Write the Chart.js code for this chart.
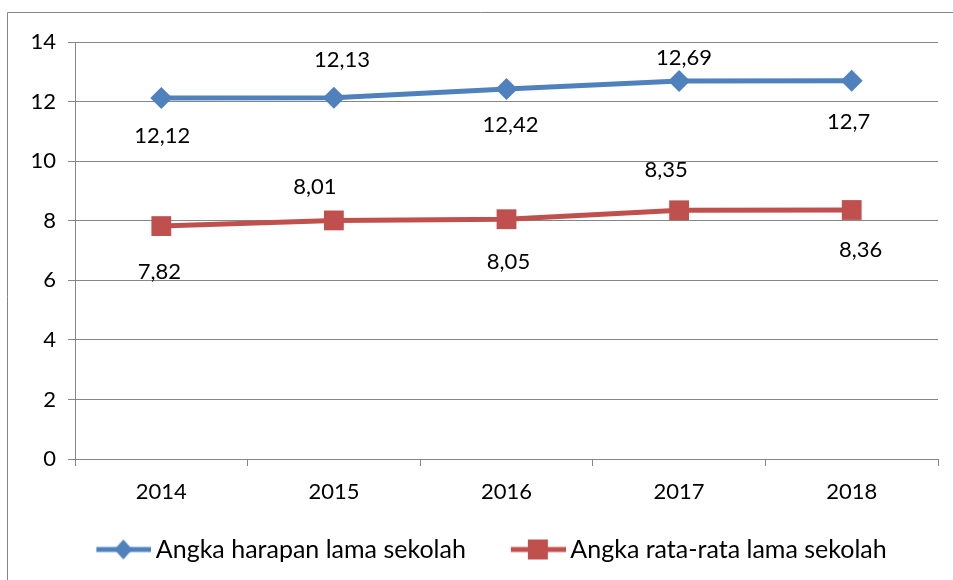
<!DOCTYPE html>
<html>
<head>
<meta charset="utf-8">
<script src="https://cdn.jsdelivr.net/npm/chart.js@4"></script>
<style>
  html, body { margin: 0; padding: 0; background: #fff; }
  #wrap { width: 953px; height: 580px; }
</style>
</head>
<body>
<div id="wrap"><canvas id="chart" width="953" height="580"></canvas></div>
<script>
// --- data ---
const years = ["2014", "2015", "2016", "2017", "2018"];
const harapanLama = [12.12, 12.13, 12.42, 12.69, 12.7];
const rataRataLama = [7.82, 8.01, 8.05, 8.35, 8.36];
const yTicks = [0, 2, 4, 6, 8, 10, 12, 14];

const colors = {
  blue: "#4f81bd",
  red: "#c0504d",
  grid: "#868686",
  text: "#000000",
};
const font = "Lato, 'Open Sans', sans-serif";

// label placement (px offsets from the point), as in the original sheet
const labelShift = {
  0: [[1, 38], [8, -38], [4, 36], [5, -23], [-3, 41]],
  1: [[-2, 46], [-19, -34], [2, 43], [-13, -40], [9, 40]],
};

function fmt(v) {
  return String(v).replace(".", ",");
}

// legend swatch: line with the marker in the middle.
// image is wider than the legend box so the line sits right next to the text
function swatch(color, shape) {
  const c = document.createElement("canvas");
  c.width = 98;
  c.height = 24;
  const g = c.getContext("2d");
  const x0 = 43, x1 = 98, mid = 70;
  g.strokeStyle = color;
  g.lineWidth = 5;
  g.beginPath();
  g.moveTo(x0, 12);
  g.lineTo(x1, 12);
  g.stroke();
  g.fillStyle = color;
  g.beginPath();
  if (shape === "diamond") {
    g.moveTo(mid, 2);
    g.lineTo(mid + 9, 12);
    g.lineTo(mid, 22);
    g.lineTo(mid - 9, 12);
  } else {
    g.rect(mid - 10, 2, 20, 20);
  }
  g.closePath();
  g.fill();
  return c;
}

const frame = {
  id: "frame",
  beforeDraw(chart) {
    const ctx = chart.ctx;
    ctx.save();
    ctx.fillStyle = "#fff";
    ctx.fillRect(0, 0, chart.width, chart.height);
    ctx.strokeStyle = colors.grid;
    ctx.lineWidth = 1;
    ctx.beginPath();
    ctx.moveTo(7.5, chart.height);
    ctx.lineTo(7.5, 12.5);
    ctx.lineTo(chart.width, 12.5);
    ctx.stroke();
    ctx.restore();
  },
};

// nudge the legend a little left, like the original
const legendShift = {
  id: "legendShift",
  afterLayout(chart) {
    chart.legend.left -= 10;
    chart.legend.right -= 10;
  },
};

const valueLabels = {
  id: "valueLabels",
  afterDatasetsDraw(chart) {
    const ctx = chart.ctx;
    ctx.save();
    ctx.font = "22px " + font;
    ctx.fillStyle = colors.text;
    ctx.textAlign = "center";
    ctx.textBaseline = "middle";
    chart.data.datasets.forEach((ds, i) => {
      chart.getDatasetMeta(i).data.forEach((pt, j) => {
        const [dx, dy] = labelShift[i][j];
        ctx.fillText(fmt(ds.data[j]), pt.x + dx, pt.y + dy);
      });
    });
    ctx.restore();
  },
};

new Chart(document.getElementById("chart"), {
  type: "line",
  data: {
    labels: years,
    datasets: [
      {
        label: "Angka harapan lama sekolah",
        data: harapanLama,
        borderColor: colors.blue,
        backgroundColor: colors.blue,
        borderWidth: 5,
        pointStyle: "rectRot",
        pointRadius: 11,
        pointHoverRadius: 11,
        pointBorderWidth: 0,
        tension: 0,
      },
      {
        label: "Angka rata-rata lama sekolah",
        data: rataRataLama,
        borderColor: colors.red,
        backgroundColor: colors.red,
        borderWidth: 5,
        pointStyle: "rect",
        pointRadius: 14,
        pointHoverRadius: 14,
        pointBorderWidth: 0,
        tension: 0,
      },
    ],
  },
  options: {
    responsive: false,
    animation: false,
    layout: { padding: { left: 30, right: 15, top: 42, bottom: 8 } },
    plugins: {
      tooltip: { enabled: false },
      legend: {
        position: "bottom",
        labels: {
          font: { family: font, size: 25 },
          color: colors.text,
          usePointStyle: true,
          pointStyleWidth: 82,
          padding: 10,
          generateLabels(chart) {
            return chart.data.datasets.map((ds, i) => ({
              text: ds.label,
              pointStyle: swatch(ds.borderColor, i === 0 ? "diamond" : "square"),
              fillStyle: ds.borderColor,
              strokeStyle: ds.borderColor,
              lineWidth: 0,
              fontColor: colors.text,
              datasetIndex: i,
            }));
          },
        },
      },
    },
    scales: {
      x: {
        offset: true,
        afterFit(axis) {
          axis.height = 68;
        },
        grid: {
          offset: true,
          drawOnChartArea: false,
          drawTicks: true,
          tickLength: 7,
          color: colors.grid,
        },
        border: { color: colors.grid },
        ticks: {
          font: { family: font, size: 22 },
          color: colors.text,
          padding: 13,
        },
      },
      y: {
        min: 0,
        max: 14,
        afterBuildTicks(axis) {
          axis.ticks = yTicks.map((v) => ({ value: v }));
        },
        afterFit(axis) {
          axis.width = 45;
        },
        grid: {
          color: colors.grid,
          tickLength: 7,
        },
        border: { color: colors.grid },
        ticks: {
          font: { family: font, size: 22 },
          color: colors.text,
          padding: 12,
        },
      },
    },
  },
  plugins: [frame, legendShift, valueLabels],
});
</script>
</body>
</html>
